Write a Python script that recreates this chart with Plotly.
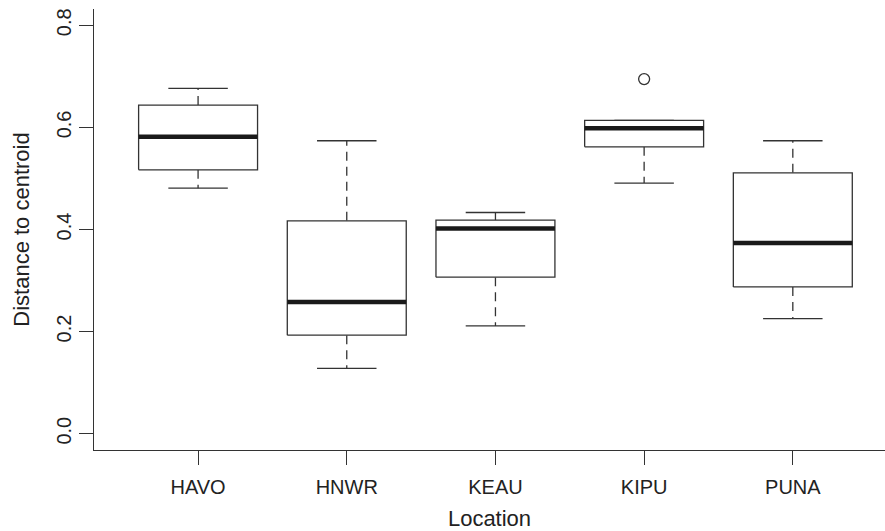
import plotly.graph_objects as go

locations = ["HAVO", "HNWR", "KEAU", "KIPU", "PUNA"]
lower_whisker = [0.481, 0.128, 0.211, 0.491, 0.2255]
q1 = [0.517, 0.193, 0.3065, 0.562, 0.2875]
median = [0.5816, 0.258, 0.402, 0.5986, 0.3737]
q3 = [0.6437, 0.4169, 0.4182, 0.6137, 0.511]
upper_whisker = [0.6765, 0.5739, 0.4333, 0.6137, 0.5739]
outlier_loc = ["KIPU"]
outlier_val = [0.6947]

y_ticks = [0.0, 0.2, 0.4, 0.6, 0.8]
y_ticktext = ["0.0", "0.2", "0.4", "0.6", "0.8"]

LINE = "#333333"
TEXT = "#222222"
FONT = "Liberation Sans, Arial, Helvetica, sans-serif"
HALF = 0.4      # half box width (boxwex 0.8)
CAP = 0.2       # half staple width

pos = list(range(1, len(locations) + 1))

box_x, box_y = [], []
med_x, med_y = [], []
wh_x, wh_y = [], []
cap_x, cap_y = [], []
for i, c in enumerate(pos):
    box_x += [c - HALF, c + HALF, c + HALF, c - HALF, c - HALF, None]
    box_y += [q1[i], q1[i], q3[i], q3[i], q1[i], None]
    med_x += [c - HALF, c + HALF, None]
    med_y += [median[i], median[i], None]
    wh_x += [c, c, None, c, c, None]
    wh_y += [q3[i], upper_whisker[i], None, q1[i], lower_whisker[i], None]
    cap_x += [c - CAP, c + CAP, None, c - CAP, c + CAP, None]
    cap_y += [upper_whisker[i], upper_whisker[i], None, lower_whisker[i], lower_whisker[i], None]

fig = go.Figure()
fig.add_trace(go.Scatter(x=wh_x, y=wh_y, mode="lines",
                         line=dict(color=LINE, width=1.3, dash="9px,6px"), hoverinfo="skip"))
fig.add_trace(go.Scatter(x=cap_x, y=cap_y, mode="lines",
                         line=dict(color=LINE, width=1.3), hoverinfo="skip"))
fig.add_trace(go.Scatter(x=box_x, y=box_y, mode="lines", fill="toself", fillcolor="white",
                         line=dict(color=LINE, width=1.3), hoverinfo="skip"))
fig.add_trace(go.Scatter(x=med_x, y=med_y, mode="lines",
                         line=dict(color="#1a1a1a", width=4.5), hoverinfo="skip"))
fig.add_trace(go.Scatter(x=[pos[locations.index(l)] for l in outlier_loc], y=outlier_val,
                         mode="markers",
                         marker=dict(symbol="circle-open", size=11, color=LINE,
                                     line=dict(width=1.3, color=LINE))))

fig.update_layout(
    width=885, height=531,
    margin=dict(l=94, r=0, t=9, b=81),
    plot_bgcolor="white", paper_bgcolor="white",
    showlegend=False,
    font=dict(family=FONT, color=TEXT, size=20),
)
fig.update_xaxes(
    range=[0.3, 5.62], tickmode="array", tickvals=pos, ticktext=locations,
    showline=True, linecolor=LINE, linewidth=1.3, mirror=False,
    ticks="outside", ticklen=14, tickwidth=1.3, tickcolor=LINE,
    ticklabelstandoff=5,
    showgrid=False, zeroline=False,
    tickfont=dict(size=20, color=TEXT, family=FONT),
    title=dict(text="Location", font=dict(size=22, color=TEXT, family=FONT), standoff=15),
)
fig.update_yaxes(
    range=[-0.032, 0.832], tickmode="array", tickvals=y_ticks, ticktext=y_ticktext,
    tickangle=-90,
    showline=True, linecolor=LINE, linewidth=1.3, mirror=False,
    ticks="outside", ticklen=14, tickwidth=1.3, tickcolor=LINE,
    showgrid=False, zeroline=False,
    tickfont=dict(size=20, color=TEXT, family=FONT),
    title=dict(text="Distance to centroid", font=dict(size=22, color=TEXT, family=FONT), standoff=17),
)

fig.write_html("out.html")
